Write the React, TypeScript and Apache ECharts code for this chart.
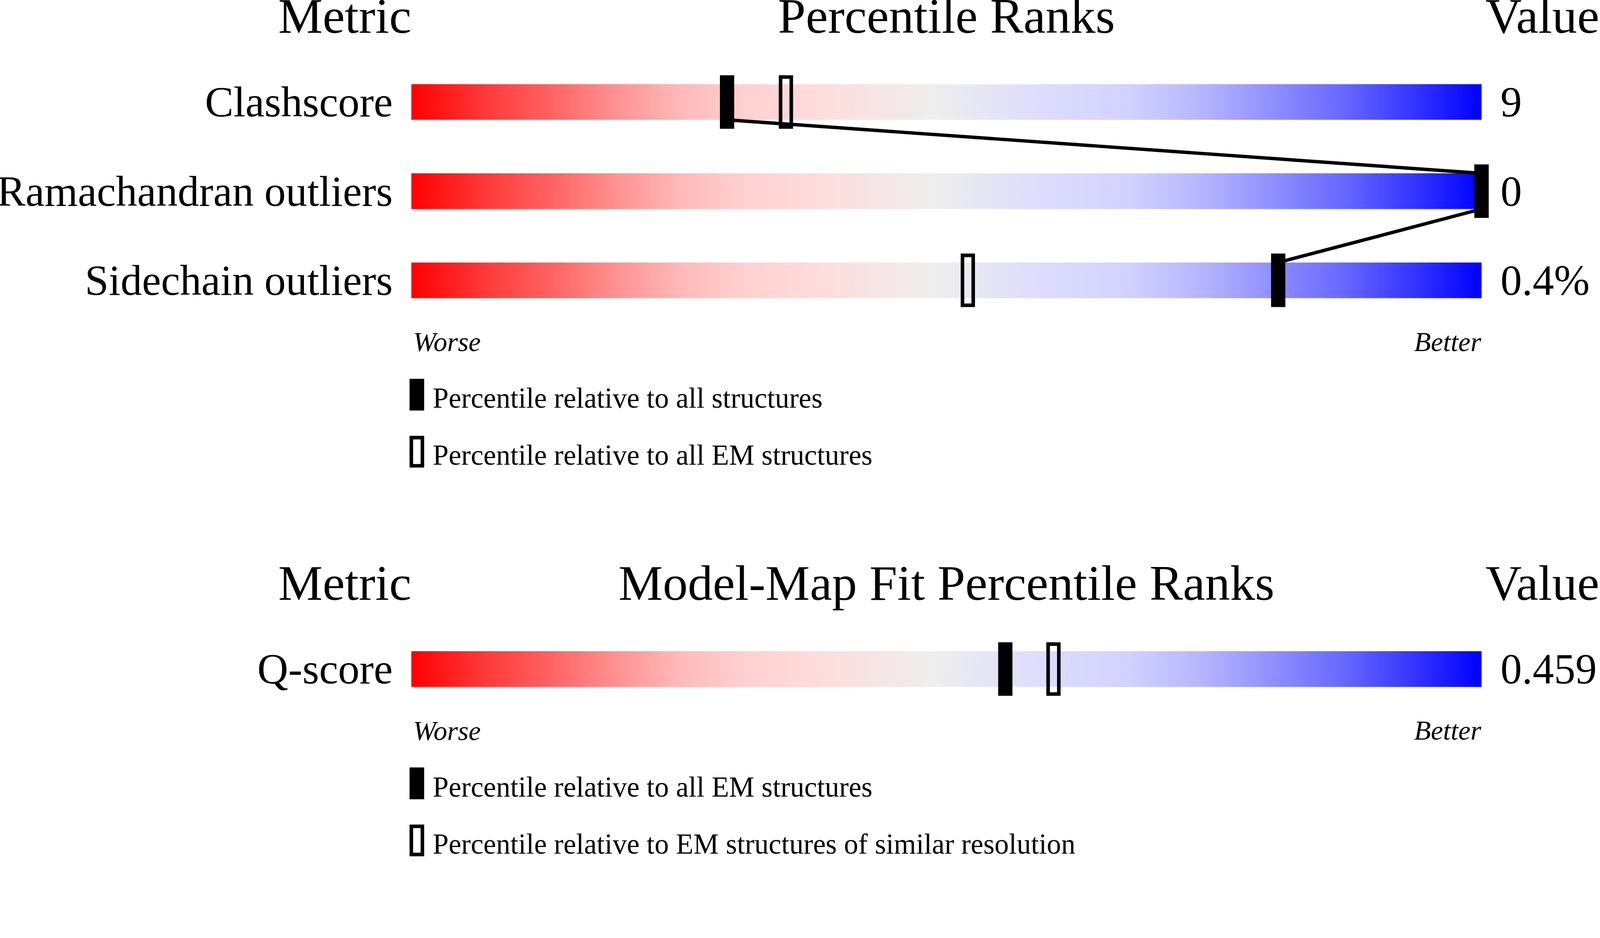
import { useEffect, useRef } from 'react'
import * as echarts from 'echarts'

// upper panel: geometry validation
const metrics = ['Clashscore', 'Ramachandran outliers', 'Sidechain outliers']
const metricValues = ['9', '0', '0.4%']
const pctAll = [29.5, 100, 81]
const pctEm = [35, 100, 52]

// lower panel: model-map fit
const fitMetrics = ['Q-score']
const fitValues = ['0.459']
const fitPctEm = [55.5]
const fitPctRes = [60]

const scaleMax = 100

const legendTop = ['Percentile relative to all structures', 'Percentile relative to all EM structures']
const legendBottom = ['Percentile relative to all EM structures', 'Percentile relative to EM structures of similar resolution']

const FONT = 'Liberation Serif'
// the layout is drawn for a 4485 x 2402 page and scaled by k to the real viewport
const REF_W = 4485
const REF_H = 2402

const gradient = () =>
  new echarts.graphic.LinearGradient(0, 0, 1, 0, [
    { offset: 0, color: '#ff0000' },
    { offset: 0.07, color: '#ff3a3a' },
    { offset: 0.13, color: '#ff6262' },
    { offset: 0.19, color: '#ff9090' },
    { offset: 0.25, color: '#ffb8b8' },
    { offset: 0.31, color: '#ffd0d0' },
    { offset: 0.38, color: '#ffdcdc' },
    { offset: 0.49, color: '#eeeeee' },
    { offset: 0.59, color: '#dddcfe' },
    { offset: 0.67, color: '#d2d2ff' },
    { offset: 0.74, color: '#b4b4ff' },
    { offset: 0.8, color: '#9292ff' },
    { offset: 0.87, color: '#6868ff' },
    { offset: 0.93, color: '#3a3aff' },
    { offset: 1, color: '#0000ff' },
  ])

function buildOption(k: number) {
  const s = (v: number) => v * k
  const BAR_H = s(100)
  const MARK_W = s(40)
  const MARK_H = s(150)
  const LW = s(10)

  const markerRender = (filled: boolean) => (_p: any, api: any) => {
    const [x, y] = api.coord([api.value(0), api.value(1)])
    if (filled) {
      return {
        type: 'rect',
        shape: { x: x - MARK_W / 2, y: y - MARK_H / 2, width: MARK_W, height: MARK_H },
        style: { fill: '#000' },
      }
    }
    return {
      type: 'rect',
      shape: { x: x - MARK_W / 2 + LW / 2, y: y - MARK_H / 2 + LW / 2, width: MARK_W - LW, height: MARK_H - LW },
      style: { fill: 'none', stroke: '#000', lineWidth: LW },
    }
  }

  const linkRender = (vals: number[]) => (params: any, api: any) => {
    const i = params.dataIndex
    if (i >= vals.length - 1) return { type: 'group', children: [] }
    const a = api.coord([vals[i], i])
    const b = api.coord([vals[i + 1], i + 1])
    return {
      type: 'line',
      shape: { x1: a[0], y1: a[1] + BAR_H / 2, x2: b[0], y2: b[1] - BAR_H / 2 },
      style: { stroke: '#000', lineWidth: s(9.5) },
    }
  }

  const panelSeries = (cats: string[], filledVals: number[], openVals: number[], xi: number, yi: number) => [
    {
      type: 'bar',
      xAxisIndex: xi,
      yAxisIndex: yi,
      barWidth: BAR_H,
      data: cats.map(() => scaleMax),
      itemStyle: { color: gradient() },
      silent: true,
      z: 1,
    },
    {
      type: 'custom',
      xAxisIndex: xi,
      yAxisIndex: yi,
      renderItem: markerRender(false),
      data: openVals.map((v, i) => [v, i]),
      z: 2,
    },
    {
      type: 'custom',
      xAxisIndex: xi,
      yAxisIndex: yi,
      renderItem: linkRender(filledVals),
      data: filledVals.map((v, i) => [v, i]),
      z: 3,
    },
    {
      type: 'custom',
      xAxisIndex: xi,
      yAxisIndex: yi,
      renderItem: markerRender(true),
      data: filledVals.map((v, i) => [v, i]),
      z: 4,
    },
  ]

  const catAxis = (grid: number, data: string[], side: 'left' | 'right') => ({
    type: 'category',
    gridIndex: grid,
    position: side,
    inverse: true,
    data,
    axisLine: { show: false },
    axisTick: { show: false },
    splitLine: { show: false },
    axisLabel: {
      fontFamily: FONT,
      fontSize: s(120),
      color: '#000',
      margin: s(side === 'left' ? 52 : 53),
      align: side === 'left' ? 'right' : 'left',
      padding: [s(20), 0, 0, 0],
    },
  })

  const text = (x: number, y: number, t: string, size: number, align: string, italic = false, lh?: number) => ({
    type: 'text',
    x: s(x),
    y: s(y),
    style: {
      text: t,
      fontFamily: FONT,
      fontSize: s(size),
      fontStyle: italic ? 'italic' : 'normal',
      lineHeight: s(lh ?? size),
      fill: '#000',
      align,
      verticalAlign: 'middle',
    },
  })

  // dy: offset of the panel's title and bars, ly: offset of its worse/better row and legend
  const panelGraphics = (dy: number, title: string, legend: string[], ly: number) => [
    text(1153, 44.4 + dy, 'Metric', 140, 'right', false, 88),
    text(2653, 44.4 + dy, title, 140, 'center', false, 88),
    text(4483, 44.4 + dy, 'Value', 140, 'right', false, 88),
    text(1158, 958.6 + ly, 'Worse', 77, 'left', true),
    text(4152, 957.6 + ly, 'Better', 77, 'right', true),
    { type: 'rect', shape: { x: s(1148), y: s(1062 + ly), width: s(41), height: s(89) }, style: { fill: '#000' } },
    text(1213, 1116.5 + ly, legend[0], 80, 'left'),
    {
      type: 'rect',
      shape: { x: s(1148) + LW / 2, y: s(1222 + ly) + LW / 2, width: s(41) - LW, height: s(89) - LW },
      style: { fill: 'none', stroke: '#000', lineWidth: LW },
    },
    text(1213, 1276.5 + ly, legend[1], 80, 'left'),
  ]

  return {
    animation: false,
    backgroundColor: '#fff',
    grid: [
      { left: s(1153), width: s(3000), top: s(161), height: s(750), outerBoundsMode: 'none', containLabel: false },
      { left: s(1153), width: s(3000), top: s(1751), height: s(250), outerBoundsMode: 'none', containLabel: false },
    ],
    xAxis: [
      { type: 'value', gridIndex: 0, min: 0, max: scaleMax, show: false },
      { type: 'value', gridIndex: 1, min: 0, max: scaleMax, show: false },
    ],
    yAxis: [
      catAxis(0, metrics, 'left'),
      catAxis(0, metricValues, 'right'),
      catAxis(1, fitMetrics, 'left'),
      catAxis(1, fitValues, 'right'),
    ],
    series: [
      ...panelSeries(metrics, pctAll, pctEm, 0, 0),
      ...panelSeries(fitMetrics, fitPctEm, fitPctRes, 1, 2),
    ],
    graphic: [
      ...panelGraphics(0, 'Percentile Ranks', legendTop, 0),
      ...panelGraphics(1590, 'Model-Map Fit Percentile Ranks', legendBottom, 1090),
    ],
  }
}

export default function App() {
  const ref = useRef<HTMLDivElement>(null)

  useEffect(() => {
    if (!ref.current) return
    document.body.style.margin = '0'
    const chart = echarts.init(ref.current, undefined, { renderer: 'svg' })
    const k = Math.min(chart.getWidth() / REF_W, chart.getHeight() / REF_H)
    chart.setOption(buildOption(k))
    return () => chart.dispose()
  }, [])

  return (
    <div
      ref={ref}
      style={{ position: 'fixed', left: 0, top: 0, width: '100vw', height: '100vh', background: '#fff' }}
    />
  )
}
